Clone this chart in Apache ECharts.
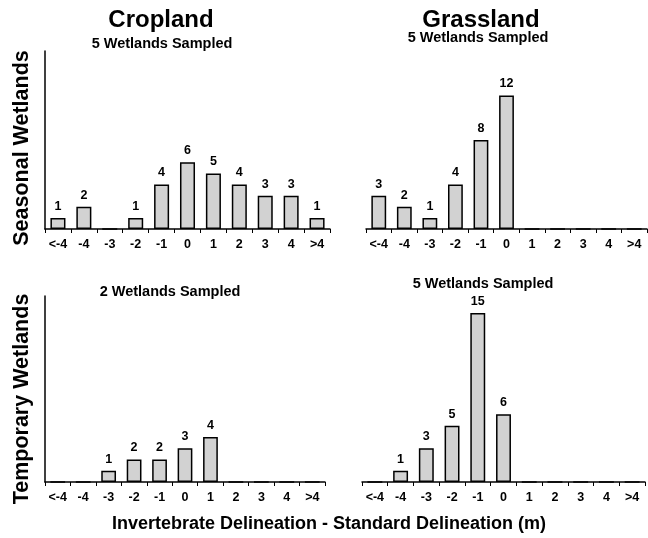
<!DOCTYPE html>
<html>
<head>
<meta charset="utf-8">
<script src="https://cdn.jsdelivr.net/npm/echarts@6/dist/echarts.min.js"></script>
<style>html,body{margin:0;padding:0;background:#fff;}#c{width:648px;height:538px;}</style>
</head>
<body>
<div id="c"></div>
<script>
const categories = ['<-4','-4','-3','-2','-1','0','1','2','3','4','>4'];
const croplandSeasonal  = [1,2,0,1,4,6,5,4,3,3,1];
const grasslandSeasonal = [3,2,1,4,8,12,0,0,0,0,0];
const croplandTemporary = [0,0,1,2,2,3,4,0,0,0,0];
const grasslandTemporary= [0,1,3,5,15,6,0,0,0,0,0];

const FONT = '"Liberation Sans", Arial, Helvetica, sans-serif';
const chart = echarts.init(document.getElementById('c'), null, {renderer:'canvas'});

const grids = [
  {left:45, top:51, width:285, height:178},
  {left:366, top:51, width:281, height:178},
  {left:45, top:296, width:280, height:186},
  {left:362, top:296, width:283, height:186}
];
const ymax = [16, 16, 16.5, 16.5];
const showY = [true,false,true,false];
const seriesData = [croplandSeasonal, grasslandSeasonal, croplandTemporary, grasslandTemporary];

const xAxis = grids.map((g,i)=>({
  type:'category', gridIndex:i, data:categories,
  axisLine:{lineStyle:{color:'#000',width:1.5}},
  axisTick:{show:true, length:4, lineStyle:{color:'#000',width:1}},
  axisLabel:{color:'#000', fontFamily:FONT, fontWeight:'bold', fontSize:12.5, margin:9, interval:0}
}));
const yAxis = grids.map((g,i)=>({
  type:'value', gridIndex:i, min:0, max:ymax[i],
  splitLine:{show:false},
  axisLine:{show:showY[i], lineStyle:{color:'#000',width:1.5}},
  axisTick:{show:false}, axisLabel:{show:false}
}));
const series = seriesData.map((d,i)=>({
  type:'bar', xAxisIndex:i, yAxisIndex:i, data:d, barWidth:'58%',
  itemStyle:{color:'#d2d2d2', borderColor:'#000', borderWidth:1.5},
  label:{show:true, position:'top', distance:5, color:'#000', fontFamily:FONT, fontWeight:'bold', fontSize:12.5,
    formatter:p=> p.value ? String(p.value) : ''}
}));

const titleStyle = {fontFamily:FONT, fontWeight:'bold', fill:'#000', align:'center', verticalAlign:'middle'};
const texts = [
  {x:161, y:20, t:'Cropland', s:24},
  {x:162, y:44, t:'5 Wetlands Sampled', s:14.5},
  {x:481, y:20, t:'Grassland', s:24},
  {x:478, y:38, t:'5 Wetlands Sampled', s:14.5},
  {x:170, y:292, t:'2 Wetlands Sampled', s:14.5},
  {x:483, y:284, t:'5 Wetlands Sampled', s:14.5},
  {x:329, y:524, t:'Invertebrate Delineation - Standard Delineation (m)', s:18}
];
const graphic = [];
texts.forEach(o=>graphic.push({type:'text', x:o.x, y:o.y, style:Object.assign({}, titleStyle, {text:o.t, fontSize:o.s})}));
graphic.push({type:'text', x:22, y:148, rotation:Math.PI/2, style:Object.assign({}, titleStyle, {text:'Seasonal Wetlands', fontSize:21.5})});
graphic.push({type:'text', x:22, y:399, rotation:Math.PI/2, style:Object.assign({}, titleStyle, {text:'Temporary Wetlands', fontSize:21.5})});

chart.setOption({
  animation:false,
  grid:grids, xAxis:xAxis, yAxis:yAxis, series:series, graphic:graphic
});
</script>
</body>
</html>
